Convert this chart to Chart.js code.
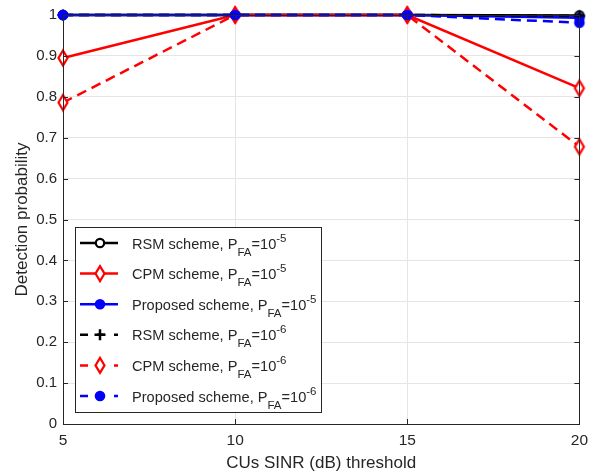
<!DOCTYPE html>
<html>
<head>
<meta charset="utf-8">
<script src="https://cdn.jsdelivr.net/npm/chart.js@4"></script>
<style>
  html, body { margin: 0; padding: 0; background: #fff; }
  #wrap { width: 595px; height: 474px; }
</style>
</head>
<body>
<div id="wrap"><canvas id="c" width="595" height="474"></canvas></div>
<script>
// data
const thresholds = [5, 10, 15, 20];
const rsm5 = [1, 1, 1, 0.999];
const cpm5 = [0.895, 1, 1, 0.821];
const prop5 = [1, 1, 1, 0.993];
const rsm6 = [1, 1, 1, 0.998];
const cpm6 = [0.786, 1, 1, 0.678];
const prop6 = [1, 1, 1, 0.981];
const xTicks = [5, 10, 15, 20];
const yTicks = [0, 0.1, 0.2, 0.3, 0.4, 0.5, 0.6, 0.7, 0.8, 0.9, 1];

const axisColor = '#262626';
const fontFam = '"Liberation Sans", Arial, sans-serif';
const dash = [10, 6];

// [label prefix, exponent, values, color, marker, hollow, dashed]
const series = [
    ['RSM scheme', '-5', rsm5, '#000000', 'circle', true, false],
    ['CPM scheme', '-5', cpm5, '#ff0000', 'diamond', true, false],
    ['Proposed scheme', '-5', prop5, '#0000ff', 'circle', false, false],
    ['RSM scheme', '-6', rsm6, '#000000', 'cross', false, true],
    ['CPM scheme', '-6', cpm6, '#ff0000', 'diamond', true, true],
    ['Proposed scheme', '-6', prop6, '#0000ff', 'circle', false, true]
];

function drawMarker(ctx, s, x, y) {
    ctx.save();
    ctx.setLineDash([]);
    ctx.lineWidth = 2.2;
    ctx.strokeStyle = s[3];
    ctx.fillStyle = s[5] ? '#ffffff' : s[3];
    ctx.beginPath();
    if (s[4] === 'circle') {
        ctx.arc(x, y, 4.2, 0, Math.PI * 2);
        ctx.fill(); ctx.stroke();
    } else if (s[4] === 'diamond') {
        ctx.moveTo(x, y - 7.5); ctx.lineTo(x + 4.5, y);
        ctx.lineTo(x, y + 7.5); ctx.lineTo(x - 4.5, y); ctx.closePath();
        ctx.fill(); ctx.stroke();
    } else {
        ctx.lineWidth = 2.5;
        ctx.moveTo(x - 5.5, y); ctx.lineTo(x + 5.5, y);
        ctx.moveTo(x, y - 5.5); ctx.lineTo(x, y + 5.5);
        ctx.stroke();
    }
    ctx.restore();
}

// marker images used as point styles
function markerImage(s) {
    const c = document.createElement('canvas');
    c.width = 20; c.height = 20;
    drawMarker(c.getContext('2d'), s, 10, 10);
    return c;
}

const datasets = series.map((s, i) => ({
    label: s[0] + ', PFA=10' + s[1],
    data: s[2].map((v, j) => ({ x: thresholds[j], y: v })),
    borderColor: s[3],
    backgroundColor: s[3],
    pointStyle: markerImage(s),
    pointRadius: 6,
    borderWidth: 2.5,
    borderDash: s[6] ? dash : [],
    tension: 0,
    clip: false,
    order: 6 - i
}));

const frame = {
    id: 'frame',
    afterDraw(chart) {
        const ctx = chart.ctx;
        const a = chart.chartArea;
        const xs = chart.scales.x, ys = chart.scales.y;
        ctx.save();
        ctx.strokeStyle = axisColor;
        ctx.lineWidth = 1;
        ctx.setLineDash([]);
        ctx.strokeRect(Math.round(a.left) + 0.5, Math.round(a.top) + 0.5,
            Math.round(a.right - a.left), Math.round(a.bottom - a.top));
        ctx.beginPath();
        xTicks.forEach(t => {
            const px = Math.round(xs.getPixelForValue(t)) + 0.5;
            ctx.moveTo(px, a.bottom); ctx.lineTo(px, a.bottom - 5);
            ctx.moveTo(px, a.top); ctx.lineTo(px, a.top + 5);
        });
        yTicks.forEach(t => {
            const py = Math.round(ys.getPixelForValue(t)) + 0.5;
            ctx.moveTo(a.left, py); ctx.lineTo(a.left + 5, py);
            ctx.moveTo(a.right, py); ctx.lineTo(a.right - 5, py);
        });
        ctx.stroke();
        ctx.restore();
    }
};

const legendBox = {
    id: 'legendBox',
    afterDraw(chart) {
        const ctx = chart.ctx;
        const bx = 75, by = 227, bw = 246, bh = 185;
        ctx.save();
        ctx.fillStyle = '#ffffff';
        ctx.fillRect(bx, by, bw, bh);
        ctx.strokeStyle = axisColor;
        ctx.lineWidth = 1;
        ctx.strokeRect(bx + 0.5, by + 0.5, bw, bh);
        series.forEach((s, i) => {
            const y = 243 + i * 30.6;
            ctx.strokeStyle = s[3];
            ctx.lineWidth = 2.5;
            ctx.setLineDash(s[6] ? [8, 9] : []);
            ctx.beginPath();
            ctx.moveTo(80, y); ctx.lineTo(118, y);
            ctx.stroke();
            drawMarker(ctx, s, 100, y);
            ctx.fillStyle = axisColor;
            ctx.textBaseline = 'alphabetic';
            let x = 132;
            const base = y + 5.5;
            const big = '14.6px ' + fontFam, small = '11.5px ' + fontFam;
            ctx.font = big;
            let t = s[0] + ', P';
            ctx.fillText(t, x, base); x += ctx.measureText(t).width;
            ctx.font = small;
            ctx.fillText('FA', x, base + 7); x += ctx.measureText('FA').width;
            ctx.font = big;
            ctx.fillText('=10', x, base); x += ctx.measureText('=10').width;
            ctx.font = small;
            ctx.fillText(s[1], x, base - 7);
        });
        ctx.restore();
    }
};

new Chart(document.getElementById('c'), {
    type: 'line',
    data: { datasets: datasets },
    options: {
        responsive: false,
        animation: false,
        layout: { padding: { left: 0, right: 12, top: 15, bottom: 0 } },
        plugins: {
            legend: { display: false },
            tooltip: { enabled: false }
        },
        scales: {
            x: {
                type: 'linear',
                min: 5, max: 20,
                afterBuildTicks: s => { s.ticks = xTicks.map(v => ({ value: v })); },
                afterFit: s => { s.height = 50; },
                grid: { color: '#e5e5e5', drawTicks: false },
                border: { display: false },
                ticks: {
                    padding: 7, color: axisColor,
                    font: { family: fontFam, size: 15.5 }
                },
                title: {
                    display: true, text: 'CUs SINR (dB) threshold', color: axisColor,
                    padding: { top: 0, bottom: 0 },
                    font: { family: fontFam, size: 17 }
                }
            },
            y: {
                min: 0, max: 1,
                afterBuildTicks: s => { s.ticks = yTicks.map(v => ({ value: v })); },
                afterFit: s => { s.width = 63; },
                grid: { color: '#e5e5e5', drawTicks: false },
                border: { display: false },
                ticks: {
                    padding: 6, color: axisColor,
                    font: { family: fontFam, size: 15 },
                    callback: v => String(Math.round(v * 10) / 10)
                },
                title: {
                    display: true, text: 'Detection probability', color: axisColor,
                    padding: { top: 12, bottom: 0 },
                    font: { family: fontFam, size: 17 }
                }
            }
        }
    },
    plugins: [frame, legendBox]
});
</script>
</body>
</html>
